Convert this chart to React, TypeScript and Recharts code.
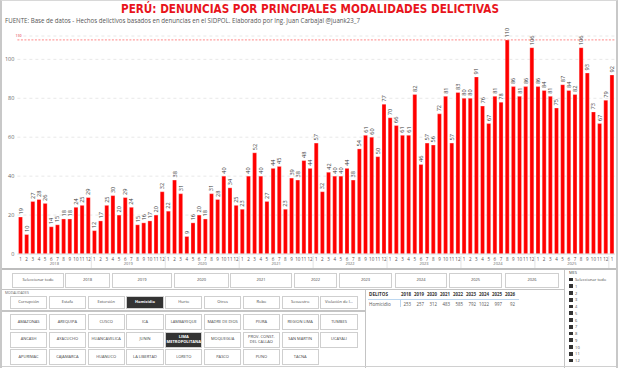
import React from "react"
import { BarChart, Bar, XAxis, YAxis, CartesianGrid, ReferenceLine, LabelList } from "recharts"

const years = ["2018", "2019", "2020", "2021", "2022", "2023", "2024", "2025", "2026"]

const v2018 = [19, 10, 27, 28, 26, 14, 15, 18, 18, 24, 25, 29]
const v2019 = [12, 17, 25, 30, 20, 29, 24, 15, 16, 17, 20, 32]
const v2020 = [22, 38, 31, 9, 16, 20, 18, 31, 28, 40, 34, 25]
const v2021 = [23, 40, 52, 40, 27, 44, 45, 23, 39, 38, 48, 44]
const v2022 = [57, 32, 42, 40, 40, 44, 38, 54, 61, 60, 50, 77]
const v2023 = [70, 66, 61, 61, 82, 46, 57, 56, 72, 81, 57, 83]
const v2024 = [80, 80, 91, 76, 67, 81, 78, 110, 86, 81, 86, 106]
const v2025 = [86, 84, 81, 75, 87, 84, 82, 106, 93, 73, 67, 79]
const v2026 = [92]

const seriesByYear = [v2018, v2019, v2020, v2021, v2022, v2023, v2024, v2025, v2026]
const maxLine = 110

const yearButtons = ["Seleccionar todo", ...years]
const modalidades = ["Corrupción", "Estafa", "Extorsión", "Homicidio", "Hurto", "Otros", "Robo", "Secuestro", "Violación de l..."]
const regionRows = [
  ["AMAZONAS", "AREQUIPA", "CUSCO", "ICA", "LAMBAYEQUE", "MADRE DE DIOS", "PIURA", "REGION LIMA", "TUMBES"],
  ["ANCASH", "AYACUCHO", "HUANCAVELICA", "JUNIN", "LIMA METROPOLITANA", "MOQUEGUA", "PROV. CONST. DEL CALLAO", "SAN MARTIN", "UCAYALI"],
  ["APURIMAC", "CAJAMARCA", "HUANUCO", "LA LIBERTAD", "LORETO", "PASCO", "PUNO", "TACNA"],
]
const tableTotals = ["253", "257", "312", "483", "585", "792", "1022", "997", "92"]
const months = ["1", "2", "3", "4", "5", "6", "7", "8", "9", "10", "11", "12"]

const data = seriesByYear.flatMap((vals, yi) =>
  vals.map((v, mi) => ({ key: `${years[yi]}-${mi + 1}`, year: years[yi], month: mi + 1, value: v }))
)

const HALF_BAND = 3.08
const UI_FONT = "'Open Sans', 'Noto Sans', sans-serif"

function MonthTick(props: any) {
  const { x, y, payload } = props
  const d = data[payload.index]
  if (!d) return null
  return (
    <g>
      <text x={x} y={y + 6.5} textAnchor="middle" fontSize={4.5} fill="#555" fontFamily={UI_FONT}>
        {d.month}
      </text>
      {d.month === 1 && payload.index > 0 && (
        <line x1={x - HALF_BAND} x2={x - HALF_BAND} y1={y + 2} y2={y + 14} stroke="#d0d0d0" strokeWidth={0.6} />
      )}
      {d.month === 6 && (
        <text x={x + HALF_BAND} y={y + 11} textAnchor="middle" fontSize={4} fill="#666" fontFamily={UI_FONT}>
          {d.year}
        </text>
      )}
    </g>
  )
}

function BarValue(props: any) {
  const { x, y, width, value } = props
  const cx = x + width / 2
  const cy = y - 2.5
  return (
    <text
      transform={`translate(${cx},${cy}) rotate(-90)`}
      textAnchor="start"
      dominantBaseline="central"
      fontSize={5.6}
      fill="#3a3a3a"
      fontFamily={UI_FONT}
    >
      {value}
    </text>
  )
}

function Btn({ x, y, w, h, label, active }: any) {
  return (
    <div
      style={{
        position: "absolute",
        left: x,
        top: y,
        width: w,
        height: h,
        boxSizing: "border-box",
        border: "1px solid #cfcfcf",
        background: active ? "#333" : "#fff",
        color: active ? "#fff" : "#444",
        fontWeight: active ? 700 : 400,
        fontSize: 4,
        lineHeight: "4.8px",
        display: "flex",
        alignItems: "center",
        justifyContent: "center",
        textAlign: "center",
        padding: "0 1px",
      }}
    >
      {label}
    </div>
  )
}

const yearBtnPos = [
  [10, 52], [63, 45], [110, 60], [172, 55], [228, 62], [292, 43], [337, 53], [393, 52], [447, 53], [503, 54],
]

export default function App() {
  return (
    <div
      style={{
        position: "absolute",
        left: 0,
        top: 0,
        width: 618,
        height: 368,
        background: "#fff",
        fontFamily: UI_FONT,
        overflow: "hidden",
        boxSizing: "border-box",
        borderLeft: "2px solid #c8c8c8",
        borderTop: "1px solid #d8d8d8",
        borderRight: "2px solid #c8c8c8",
      }}
    >
      <svg width={618} height={30} style={{ position: "absolute", left: 0, top: 0 }}>
        <text
          x={119}
          y={12.3}
          textLength={378}
          lengthAdjust="spacingAndGlyphs"
          fontSize={12.5}
          fontWeight={700}
          fill="#e8141c"
          fontFamily="'Liberation Sans Narrow', 'DejaVu Sans Condensed', sans-serif"
        >
          PERÚ: DENUNCIAS POR PRINCIPALES MODALIDADES DELICTIVAS
        </text>
        <text x={3} y={22.2} textLength={355} lengthAdjust="spacingAndGlyphs" fontSize={6.2} fill="#555" fontFamily={UI_FONT}>
          FUENTE: Base de datos - Hechos delictivos basados en denuncias en el SIDPOL. Elaborado por Ing. Juan Carbajal @juank23_7
        </text>
      </svg>

      <div style={{ position: "absolute", left: 0, top: 0 }}>
        <BarChart width={618} height={268} data={data} margin={{ top: 35, right: 5, bottom: 3, left: 0 }} barCategoryGap={1.1}>
          <CartesianGrid vertical={false} stroke="#e8e8e8" strokeDasharray="3 3" />
          <XAxis
            dataKey="key"
            interval={0}
            tickLine={false}
            tickSize={0}
            tickMargin={0}
            height={12}
            axisLine={{ stroke: "#e0e0e0" }}
            tick={<MonthTick />}
          />
          <YAxis
            width={15.4}
            domain={[0, 112]}
            ticks={[0, 20, 40, 60, 80, 100]}
            axisLine={false}
            tickLine={false}
            tickSize={0}
            tickMargin={3}
            tick={{ fontSize: 5.5, fill: "#666", fontFamily: UI_FONT }}
          />
          <ReferenceLine
            y={maxLine}
            stroke="#ff6b6b"
            strokeDasharray="2 1.5"
            strokeWidth={0.8}
            label={(p: any) => (
              <text x={p.viewBox.x - 2} y={p.viewBox.y - 2.5} fontSize={3.6} fill="#e8141c" fontFamily={UI_FONT}>
                {maxLine}
              </text>
            )}
          />
          <Bar dataKey="value" fill="#ff0000" stroke="#ffffff" strokeWidth={0.3} isAnimationActive={false}>
            <LabelList dataKey="value" content={<BarValue />} />
          </Bar>
        </BarChart>
      </div>

      {/* separators */}
      <div style={{ position: "absolute", left: 0, top: 267, width: 618, height: 2, background: "#bdbdbd" }} />
      <div style={{ position: "absolute", left: 0, top: 288, width: 563, height: 1, background: "#c4c4c4" }} />
      <div style={{ position: "absolute", left: 0, top: 309, width: 363, height: 2, background: "#c4c4c4" }} />
      <div style={{ position: "absolute", left: 363, top: 289, width: 1, height: 79, background: "#c4c4c4" }} />
      <div style={{ position: "absolute", left: 562, top: 269, width: 1, height: 99, background: "#c4c4c4" }} />
      <div style={{ position: "absolute", left: 0, top: 365, width: 618, height: 1, background: "#d0d0d0" }} />

      {yearButtons.map((b, i) => (
        <Btn key={b} x={yearBtnPos[i][0]} y={272} w={yearBtnPos[i][1]} h={15} label={b} />
      ))}

      <div style={{ position: "absolute", left: 3, top: 289, fontSize: 3.4, color: "#666" }}>MODALIDADES</div>
      {modalidades.map((m, i) => (
        <Btn key={m} x={8 + i * 38.8} y={295} w={37.2} h={13} label={m} active={m === "Homicidio"} />
      ))}

      {regionRows.map((row, r) =>
        row.map((reg, i) => (
          <Btn
            key={reg}
            x={8 + i * 38.8}
            y={313 + r * 17.5}
            w={37.2}
            h={16}
            label={reg}
            active={reg === "LIMA METROPOLITANA"}
          />
        ))
      )}

      {/* table */}
      <div style={{ position: "absolute", left: 367, top: 290, fontSize: 4.6, fontWeight: 700, color: "#333" }}>DELITOS</div>
      {years.map((y, i) => (
        <div
          key={y}
          style={{ position: "absolute", left: 397 + i * 13, top: 290, width: 12, textAlign: "right", fontSize: 4.4, fontWeight: 700, color: "#333" }}
        >
          {y}
        </div>
      ))}
      <div style={{ position: "absolute", left: 366, top: 298, width: 151, height: 1, background: "#bcd7f0" }} />
      <div style={{ position: "absolute", left: 398, top: 299, width: 1, height: 7, background: "#bcd7f0" }} />
      <div style={{ position: "absolute", left: 367, top: 300, fontSize: 4.6, color: "#555" }}>Homicidio</div>
      {tableTotals.map((t, i) => (
        <div
          key={years[i]}
          style={{ position: "absolute", left: 397 + i * 13, top: 300, width: 12, textAlign: "right", fontSize: 4.4, color: "#555" }}
        >
          {t}
        </div>
      ))}

      {/* MES slicer */}
      <div style={{ position: "absolute", left: 567, top: 269, fontSize: 4, color: "#444" }}>MES</div>
      {["Seleccionar todo", ...months].map((m, i) => (
        <div key={m} style={{ position: "absolute", left: 567, top: 276 + i * 6.75, height: 5, display: "flex", alignItems: "center" }}>
          <div style={{ width: 3.6, height: 3.6, background: "#333", marginRight: 2.5 }} />
          <span style={{ fontSize: 4, color: "#444" }}>{m}</span>
        </div>
      ))}
    </div>
  )
}
